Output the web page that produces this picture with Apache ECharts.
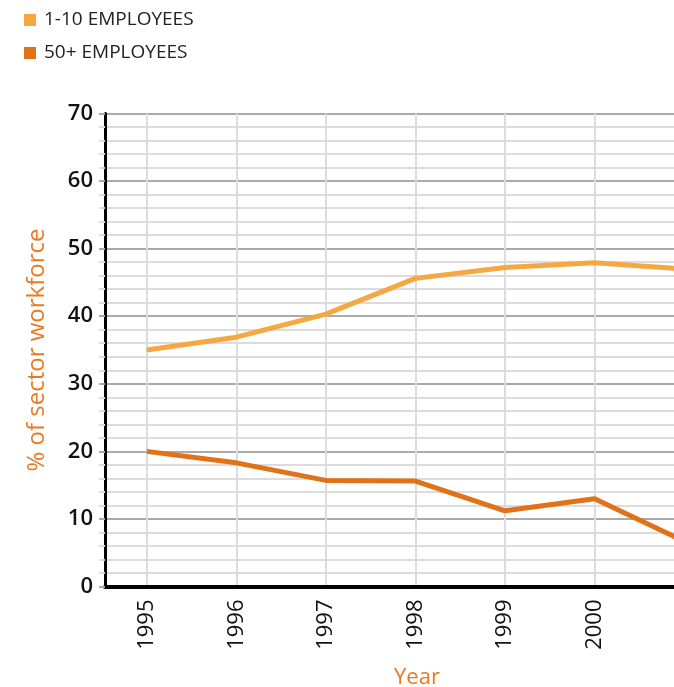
<!DOCTYPE html>
<html>
<head>
<meta charset="utf-8">
<script src="https://cdn.jsdelivr.net/npm/echarts@6/dist/echarts.min.js"></script>
<style>
  html, body { margin: 0; padding: 0; background: #fff; overflow: hidden; width: 674px; height: 687px; }
  #chart { width: 760px; height: 687px; }
</style>
</head>
<body>
<div id="chart"></div>
<script>
// Share of sector workforce by firm size, 1995-2001
const years = [1995, 1996, 1997, 1998, 1999, 2000, 2001];
const smallFirms = [35.0, 36.9, 40.3, 45.6, 47.2, 47.9, 47.0];   // 1-10 employees
const largeFirms = [20.0, 18.3, 15.7, 15.6, 11.2, 13.0, 6.7];    // 50+ employees
const yTicks = [0, 10, 20, 30, 40, 50, 60, 70];

const seriesNames = ['1-10 EMPLOYEES', '50+ EMPLOYEES'];
const colors = ['#F5A841', '#E0721A'];
const accent = '#E87A24';
const font = '"Open Sans", "Noto Sans", sans-serif';

const pairs = vals => years.map((y, i) => [y, vals[i]]);

const chart = echarts.init(document.getElementById('chart'), null, { renderer: 'canvas' });
chart.setOption({
  animation: false,
  color: colors,
  legend: {
    orient: 'vertical',
    left: 19,
    top: 3,
    icon: 'rect',
    itemWidth: 12,
    itemHeight: 12,
    itemGap: 9,
    textStyle: { fontFamily: font, fontSize: 19, color: '#222', lineHeight: 24, padding: [0, 0, 0, 3] },
    data: seriesNames
  },
  grid: { left: 105, right: 31, top: 113.5, bottom: 100.5, containLabel: false, outerBoundsMode: 'none' },
  xAxis: {
    type: 'value',
    min: 1994.535,
    max: 2001.5,
    name: 'Year',
    nameLocation: 'middle',
    nameGap: 80,
    nameTextStyle: { fontFamily: font, fontSize: 22, color: accent },
    axisLine: { show: true, onZero: false, lineStyle: { color: '#000', width: 4 } },
    axisTick: { show: false, customValues: years },
    axisLabel: {
      customValues: years,
      rotate: 90,
      margin: 13,
      fontFamily: font,
      fontSize: 22,
      color: '#111',
      hideOverlap: false,
      showMinLabel: true,
      showMaxLabel: true,
      formatter: v => String(Math.round(v))
    },
    splitLine: { show: true, lineStyle: { color: '#dcdcdc', width: 2 } }
  },
  yAxis: {
    type: 'value',
    min: yTicks[0],
    max: yTicks[yTicks.length - 1],
    interval: 10,
    name: '% of sector workforce',
    nameLocation: 'middle',
    nameGap: 56,
    nameTextStyle: { fontFamily: font, fontSize: 24, color: accent },
    axisLine: { show: true, lineStyle: { color: '#000', width: 3 } },
    axisTick: { show: true, inside: false, length: 6, lineStyle: { color: '#aaa', width: 2 } },
    minorTick: { show: true, splitNumber: 5, length: 6, lineStyle: { color: '#dcdcdc', width: 2 } },
    axisLabel: {
      margin: 12,
      fontFamily: font,
      fontSize: 22,
      fontWeight: 600,
      color: '#111'
    },
    splitLine: { show: true, lineStyle: { color: '#aaa', width: 2 } },
    minorSplitLine: { show: true, lineStyle: { color: '#dcdcdc', width: 2 } }
  },
  series: [
    {
      name: seriesNames[0],
      type: 'line',
      data: pairs(smallFirms),
      showSymbol: false,
      symbol: 'none',
      lineStyle: { width: 5, color: colors[0] },
      z: 3
    },
    {
      name: seriesNames[1],
      type: 'line',
      data: pairs(largeFirms),
      showSymbol: false,
      symbol: 'none',
      lineStyle: { width: 5, color: colors[1] },
      z: 3
    }
  ]
});
</script>
</body>
</html>
